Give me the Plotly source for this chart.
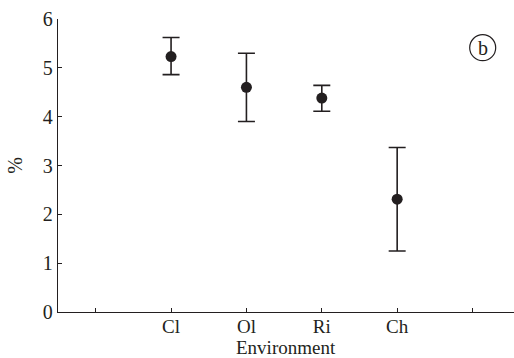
import plotly.graph_objects as go

categories = ["Cl", "Ol", "Ri", "Ch"]
means = [5.23, 4.60, 4.38, 2.31]
upper = [5.62, 5.30, 4.64, 3.37]
lower = [4.86, 3.90, 4.11, 1.25]
y_ticks = [0, 1, 2, 3, 4, 5, 6]

positions = [i + 1 for i in range(len(categories))]
err_plus = [u - m for u, m in zip(upper, means)]
err_minus = [m - l for m, l in zip(means, lower)]

tick_positions = [0] + positions + [len(categories) + 1]
tick_text = [""] + categories + [""]

ink = "#231f20"
font_family = "Liberation Serif, Times New Roman, serif"

W, H = 514, 358
ML, MR, MT, MB = 58, 0, 19, 46
pw, ph = W - ML - MR, H - MT - MB

fig = go.Figure()
fig.add_trace(go.Scatter(
    x=positions, y=means, mode="markers",
    marker=dict(size=11, color=ink),
    error_y=dict(type="data", symmetric=False, array=err_plus, arrayminus=err_minus,
                 color=ink, thickness=1.6, width=8.5),
    showlegend=False,
))

fig.update_layout(
    width=W, height=H,
    margin=dict(l=ML, r=MR, t=MT, b=MB),
    paper_bgcolor="white", plot_bgcolor="white",
    font=dict(family=font_family, size=20, color=ink),
    xaxis=dict(
        range=[-0.5, 5.55], tickmode="array", tickvals=tick_positions, ticktext=tick_text,
        ticks="inside", ticklen=4, tickwidth=1, tickcolor=ink,
        showline=True, linecolor=ink, linewidth=1.3, showgrid=False, zeroline=False,
        tickfont=dict(size=19), ticklabelstandoff=-3,
    ),
    yaxis=dict(
        range=[0, 6], tickmode="array", tickvals=y_ticks,
        ticks="inside", ticklen=4, tickwidth=1, tickcolor=ink,
        showline=True, linecolor=ink, linewidth=1.3, showgrid=False, zeroline=False,
        tickfont=dict(size=20),
        title=dict(text="%", font=dict(size=20), standoff=14),
    ),
)

# x-axis title placed as annotation (centred under the plot area)
fig.add_annotation(x=0.5, y=(H - MB - 347) / ph, xref="paper", yref="paper",
                   text="Environment", showarrow=False, font=dict(size=19, color=ink),
                   xanchor="center", yanchor="middle")

cx = (482.7 - ML) / pw
cy = (H - MB - 47.7) / ph
fig.add_annotation(x=cx, y=cy, xref="paper", yref="paper",
                   text="b", showarrow=False, font=dict(size=20, color=ink),
                   xanchor="center", yanchor="middle")
fig.add_shape(type="circle", xref="paper", yref="paper",
              xsizemode="pixel", ysizemode="pixel", xanchor=cx, yanchor=cy,
              x0=-13, x1=13, y0=-13, y1=13,
              line=dict(color=ink, width=1.2))

fig.write_html("out.html")
